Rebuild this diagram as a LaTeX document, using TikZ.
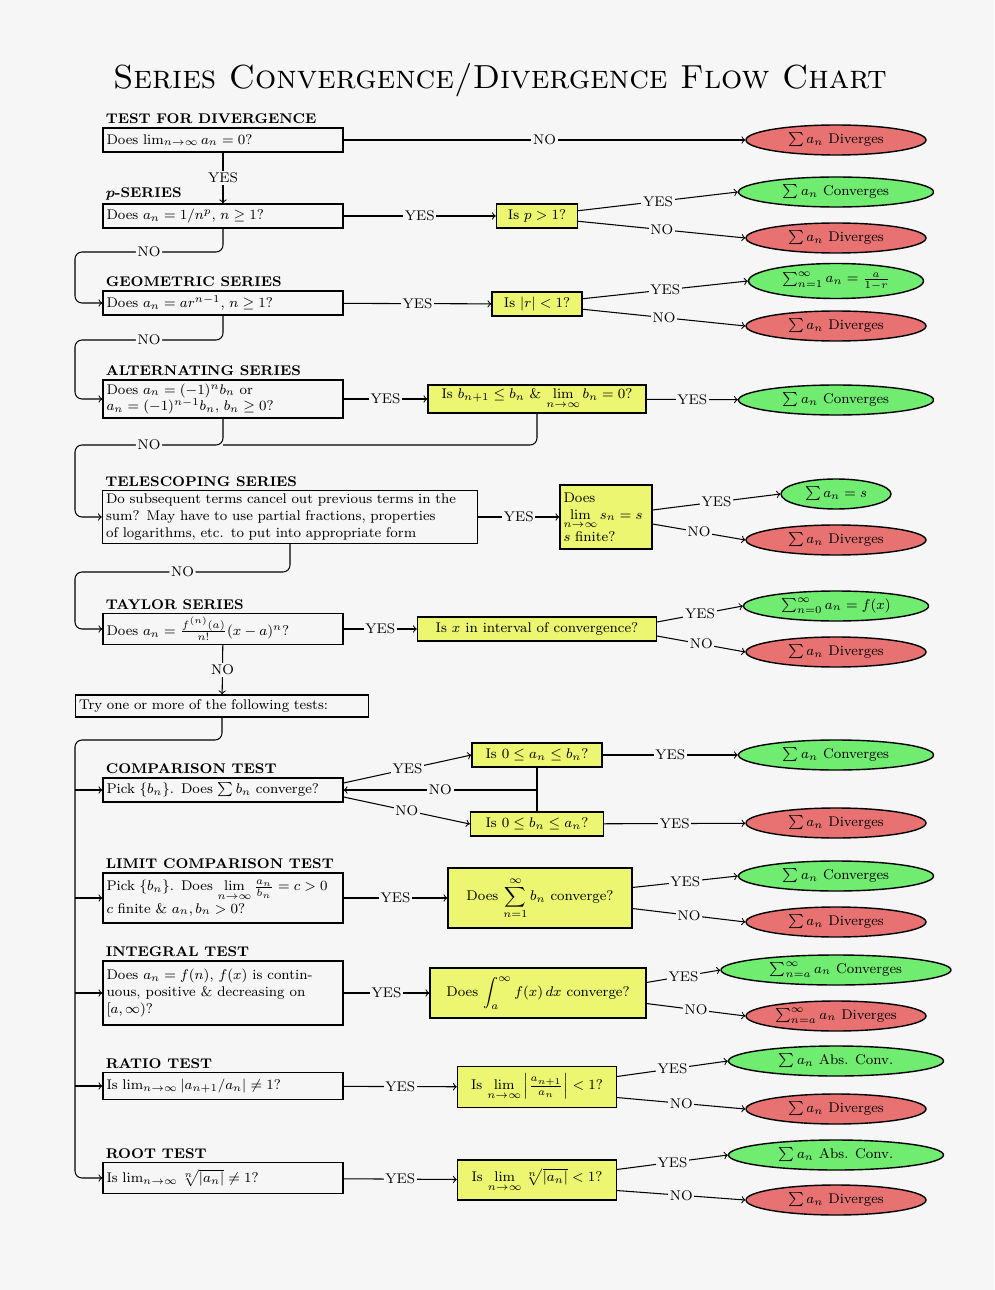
\documentclass[tikz,border=0pt]{standalone}
\usepackage{amsmath}
\usepackage{amssymb}
\usetikzlibrary{positioning}
\usetikzlibrary{shapes.geometric}

\definecolor{bgcol}{RGB}{246,246,246}
\definecolor{qyellow}{RGB}{236,246,112}
\definecolor{cgreen}{RGB}{112,236,112}
\definecolor{dred}{RGB}{232,114,114}

\begin{document}
\begin{tikzpicture}[
                x=0.02cm, y=-0.02cm,
                font=\footnotesize,
                semithick,
                testbox/.style={rectangle, draw, thick, text width=4.66cm, align=left, inner sep=2pt, minimum height=0.48cm},
                askbox/.style={rectangle, draw, thick, fill=qyellow, align=center, inner sep=2pt, minimum height=0.48cm},
                convnode/.style={ellipse, draw, thick, fill=cgreen, inner sep=1pt, minimum width=3.9cm, minimum height=0.6cm},
                divnode/.style={ellipse, draw, thick, fill=dred, inner sep=1pt, minimum width=3.6cm, minimum height=0.6cm},
                header/.style={font=\footnotesize\bfseries\boldmath, inner sep=1pt},
                lbl/.style={fill=bgcol, inner sep=1pt},
            ]
            \fill[bgcol] (0,0) rectangle (994,1290);
            \useasboundingbox (0,0) rectangle (994,1290);

            % Title
            \node[font=\fontsize{19}{23}\selectfont\scshape] (title) at (500,80) {Series Convergence/Divergence Flow Chart};

            % Tests on the left
            \node[testbox]                  (tfd)  at (223,140)  {Does $\lim_{n\to\infty} a_n = 0$?};
            \node[testbox]                  (ps)   at (223,216)  {Does $a_n = 1/n^p$, $n \ge 1$?};
            \node[testbox]                  (geo)  at (223,303)  {Does $a_n = ar^{n-1}$, $n \ge 1$?};
            \node[testbox]                  (alt)  at (223,399)  {Does $a_n = (-1)^n b_n$ or\\ $a_n = (-1)^{n-1} b_n$, $b_n \ge 0$?};
            \node[testbox, text width=7.36cm] (tel) at (290,517) {Do subsequent terms cancel out previous terms in the\\ sum? May have to use partial fractions, properties\\ of logarithms, etc. to put into appropriate form};
            \node[testbox, minimum height=0.56cm] (tay) at (223,629) {Does $a_n = \frac{f^{(n)}(a)}{n!}(x-a)^n$?};
            \node[testbox, text width=5.72cm, minimum height=0.44cm] (try) at (222,706) {Try one or more of the following tests:};
            \node[testbox]                  (cmp)  at (223,790)  {Pick $\{b_n\}$. Does $\sum b_n$ converge?};
            \node[testbox, minimum height=1cm] (lct) at (223,898) {Pick $\{b_n\}$. Does $\lim\limits_{n\to\infty} \tfrac{a_n}{b_n} = c > 0$\\ $c$ finite \& $a_n, b_n > 0$?};
            \node[testbox, align=justify, minimum height=1.28cm] (int) at (223,993) {Does $a_n = f(n)$, $f(x)$ is contin-\\uous, positive \& decreasing on\\ $[a,\infty)$?};
            \node[testbox, minimum height=0.54cm] (rat) at (223,1086) {Is $\lim_{n\to\infty} |a_{n+1}/a_n| \ne 1$?};
            \node[testbox, minimum height=0.62cm] (root) at (223,1178) {Is $\lim_{n\to\infty} \sqrt[n]{|a_n|} \ne 1$?};

            % Headers
            \node[header, above right=1pt of tfd.north west]  {TEST FOR DIVERGENCE};
            \node[header, above right=1pt of ps.north west]   {$p$-SERIES};
            \node[header, above right=1pt of geo.north west]  {GEOMETRIC SERIES};
            \node[header, above right=1pt of alt.north west]  {ALTERNATING SERIES};
            \node[header, above right=1pt of tel.north west]  {TELESCOPING SERIES};
            \node[header, above right=1pt of tay.north west]  {TAYLOR SERIES};
            \node[header, above right=1pt of cmp.north west]  {COMPARISON TEST};
            \node[header, above right=1pt of lct.north west]  {LIMIT COMPARISON TEST};
            \node[header, above right=1pt of int.north west]  {INTEGRAL TEST};
            \node[header, above right=1pt of rat.north west]  {RATIO TEST};
            \node[header, above right=1pt of root.north west] {ROOT TEST};

            % Questions
            \node[askbox, minimum width=1.62cm]  (pq) at (537,216)  {Is $p > 1$?};
            \node[askbox, minimum width=1.8cm]   (gq) at (537,304)  {Is $|r| < 1$?};
            \node[askbox, minimum width=4.36cm, minimum height=0.56cm] (aq) at (537,399) {Is $b_{n+1} \le b_n$ \& $\lim\limits_{n\to\infty} b_n = 0$?};
            \node[askbox, align=left, text width=1.7cm, minimum height=1.28cm] (tq) at (606,517) {Does\\ $\lim\limits_{n\to\infty} s_n = s$\\ $s$ finite?};
            \node[askbox, minimum width=4.78cm]  (yq) at (537,629)  {Is $x$ in interval of convergence?};
            \node[askbox, minimum width=2.6cm]   (c1) at (537,755)  {Is $0 \le a_n \le b_n$?};
            \node[askbox, minimum width=2.66cm]  (c2) at (537,824)  {Is $0 \le b_n \le a_n$?};
            \node[askbox, minimum width=3.68cm, minimum height=1.2cm] (lq) at (540,898) {Does $\displaystyle\sum_{n=1}^{\infty} b_n$ converge?};
            \node[askbox, minimum width=4.32cm, minimum height=1cm]   (iq) at (538,993) {Does $\displaystyle\int_a^{\infty} f(x)\,dx$ converge?};
            \node[askbox, minimum width=3.18cm, minimum height=0.82cm] (rq) at (537,1087) {Is $\lim\limits_{n\to\infty} \left|\frac{a_{n+1}}{a_n}\right| < 1$?};
            \node[askbox, minimum width=3.18cm, minimum height=0.8cm]  (oq) at (537,1180) {Is $\lim\limits_{n\to\infty} \sqrt[n]{|a_n|} < 1$?};

            % Results
            \node[divnode]  (tfdD)  at (836,140)  {$\sum a_n$ Diverges};
            \node[convnode] (psC)   at (836,192)  {$\sum a_n$ Converges};
            \node[divnode]  (psD)   at (836,238)  {$\sum a_n$ Diverges};
            \node[convnode, minimum width=3.5cm, minimum height=0.7cm] (geoC) at (836,281) {$\sum_{n=1}^{\infty} a_n = \frac{a}{1-r}$};
            \node[divnode]  (geoD)  at (836,326)  {$\sum a_n$ Diverges};
            \node[convnode] (altC)  at (836,400)  {$\sum a_n$ Converges};
            \node[convnode, minimum width=2.2cm] (telC) at (836,494) {$\sum a_n = s$};
            \node[divnode]  (telD)  at (836,540)  {$\sum a_n$ Diverges};
            \node[convnode, minimum width=3.7cm] (tayC) at (836,606) {$\sum_{n=0}^{\infty} a_n = f(x)$};
            \node[divnode]  (tayD)  at (836,652)  {$\sum a_n$ Diverges};
            \node[convnode] (cmpC)  at (836,755)  {$\sum a_n$ Converges};
            \node[divnode]  (cmpD)  at (836,823)  {$\sum a_n$ Diverges};
            \node[convnode] (lctC)  at (836,876)  {$\sum a_n$ Converges};
            \node[divnode]  (lctD)  at (836,922)  {$\sum a_n$ Diverges};
            \node[convnode, minimum width=4.6cm] (intC) at (836,970) {$\sum_{n=a}^{\infty} a_n$ Converges};
            \node[divnode]  (intD)  at (836,1016) {$\sum_{n=a}^{\infty} a_n$ Diverges};
            \node[convnode, minimum width=4.3cm] (ratC) at (836,1061) {$\sum a_n$ Abs. Conv.};
            \node[divnode]  (ratD)  at (836,1109) {$\sum a_n$ Diverges};
            \node[convnode, minimum width=4.3cm] (rootC) at (836,1155) {$\sum a_n$ Abs. Conv.};
            \node[divnode]  (rootD) at (836,1200) {$\sum a_n$ Diverges};

            \coordinate (rail) at (75,740);

            %Lines
            \draw[->] (tfd) -- node[lbl]{NO} (tfdD);
            \draw[->] (tfd) -- node[lbl]{YES} (ps);

            \draw[->] (ps) -- node[lbl]{YES} (pq);
            \draw[->] ([yshift=3pt]pq.east) -- node[lbl]{YES} (psC.west);
            \draw[->] ([yshift=-3pt]pq.east) -- node[lbl]{NO} (psD.west);
            \draw[->, rounded corners] (ps.south) |- node[lbl, pos=0.75]{NO} (75,252) |- (geo.west);

            \draw[->] (geo) -- node[lbl]{YES} (gq);
            \draw[->] ([yshift=3pt]gq.east) -- node[lbl]{YES} (geoC.west);
            \draw[->] ([yshift=-3pt]gq.east) -- node[lbl]{NO} (geoD.west);
            \draw[->, rounded corners] (geo.south) |- node[lbl, pos=0.75]{NO} (75,340) |- (alt.west);

            \draw[->] (alt) -- node[lbl]{YES} (aq);
            \draw[->] (aq) -- node[lbl]{YES} (altC);
            \draw[rounded corners] (aq.south) |- (alt.south |- 0,445);
            \draw[->, rounded corners] (alt.south) |- node[lbl, pos=0.75]{NO} (75,445) |- (tel.west);

            \draw[->] (tel) -- node[lbl]{YES} (tq);
            \draw[->] ([yshift=4pt]tq.east) -- node[lbl]{YES} (telC.west);
            \draw[->] ([yshift=-4pt]tq.east) -- node[lbl]{NO} (telD.west);
            \draw[->, rounded corners] (tel.south) |- node[lbl, pos=0.75]{NO} (75,572) |- (tay.west);

            \draw[->] (tay) -- node[lbl]{YES} (yq);
            \draw[->] ([yshift=4pt]yq.east) -- node[lbl]{YES} (tayC.west);
            \draw[->] ([yshift=-4pt]yq.east) -- node[lbl]{NO} (tayD.west);
            \draw[->] (tay) -- node[lbl]{NO} (try);

            \draw[->, rounded corners] (try.south) |- (rail) |- (root.west);
            \foreach \t in {cmp, lct, int, rat}
                \draw[->] (\t.west -| rail) -- (\t.west);

            \draw[->] ([yshift=4pt]cmp.east) -- node[lbl]{YES} (c1.west);
            \draw[->] ([yshift=-4pt]cmp.east) -- node[lbl]{NO} (c2.west);
            \draw (c1.south) -- (c2.north);
            \draw[->] (c1.south |- cmp.east) -- node[lbl]{NO} (cmp.east);
            \draw[->] (c1) -- node[lbl]{YES} (cmpC);
            \draw[->] (c2) -- node[lbl]{YES} (cmpD);

            \draw[->] (lct) -- node[lbl]{YES} (lq);
            \draw[->] ([yshift=6pt]lq.east) -- node[lbl]{YES} (lctC.west);
            \draw[->] ([yshift=-6pt]lq.east) -- node[lbl]{NO} (lctD.west);

            \draw[->] (int) -- node[lbl]{YES} (iq);
            \draw[->] ([yshift=6pt]iq.east) -- node[lbl]{YES} (intC.west);
            \draw[->] ([yshift=-6pt]iq.east) -- node[lbl]{NO} (intD.west);

            \draw[->] (rat) -- node[lbl]{YES} (rq);
            \draw[->] ([yshift=6pt]rq.east) -- node[lbl]{YES} (ratC.west);
            \draw[->] ([yshift=-6pt]rq.east) -- node[lbl]{NO} (ratD.west);

            \draw[->] (root) -- node[lbl]{YES} (oq);
            \draw[->] ([yshift=6pt]oq.east) -- node[lbl]{YES} (rootC.west);
            \draw[->] ([yshift=-6pt]oq.east) -- node[lbl]{NO} (rootD.west);
        \end{tikzpicture}
\end{document}
